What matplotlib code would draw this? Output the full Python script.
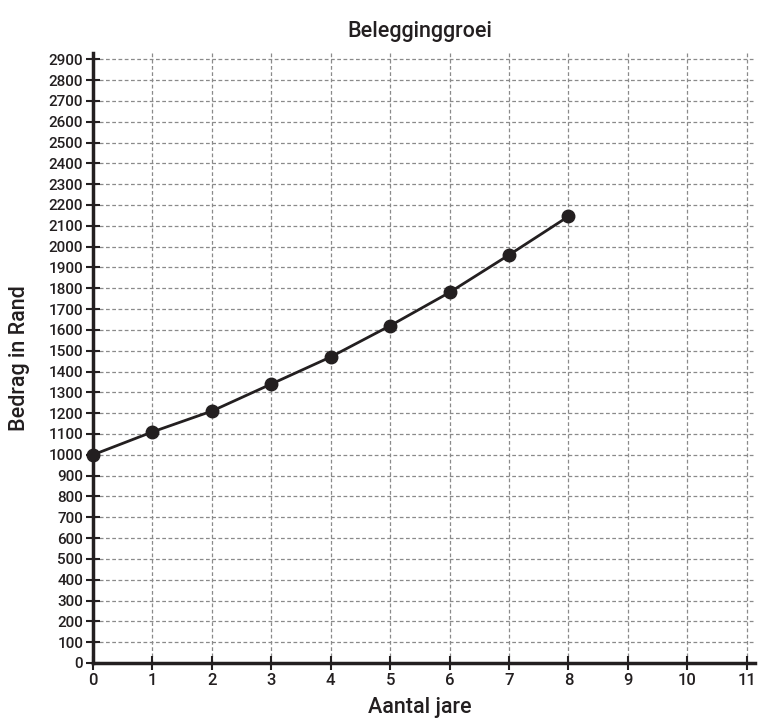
import matplotlib
matplotlib.use("Agg")
import matplotlib.pyplot as plt

# Beleggingsgroei data
jare = [0, 1, 2, 3, 4, 5, 6, 7, 8]
bedrag = [1000, 1110, 1210, 1340, 1470, 1620, 1780, 1960, 2145]
x_ticks = list(range(0, 12))
y_ticks = list(range(0, 3000, 100))

plt.rcParams['font.family'] = ['Roboto', 'DejaVu Sans']

fig = plt.figure(figsize=(7.58, 7.22), dpi=100)
ax = fig.add_axes([93/758, 1 - 663/722, (755 - 93)/758, (663 - 53)/722])

ax.plot(jare, bedrag, color='#231f20', lw=2, marker='o', ms=9, zorder=5, clip_on=False)

ax.set_xlim(0, 11.14)
ax.set_ylim(0, 2930)
ax.set_xticks(x_ticks)
ax.set_yticks(y_ticks)
ax.tick_params(axis='both', color='#231f20', labelcolor='#231f20')
ax.tick_params(axis='x', direction='inout', length=10, width=1.5, pad=2, labelsize=12)
ax.tick_params(axis='y', direction='inout', length=10, width=1.5, pad=2, labelsize=11)
for lab in ax.get_xticklabels() + ax.get_yticklabels():
    lab.set_fontweight('medium')

ax.grid(True, ls=(0, (3, 2)), color='#8a8a8a', lw=0.9)
ax.set_axisbelow(True)

for s in ['top', 'right']:
    ax.spines[s].set_visible(False)
for s in ['left', 'bottom']:
    ax.spines[s].set_linewidth(2.5)
    ax.spines[s].set_color('#231f20')

fig.text(420/758, 1 - 32/722, 'Belegginggroei', ha='center', va='center',
         fontsize=15.5, fontweight='medium', color='#231f20')
fig.text(420/758, 1 - 708/722, 'Aantal jare', ha='center', va='center',
         fontsize=15.5, fontweight='medium', color='#231f20')
fig.text(20/758, 1 - 358/722, 'Bedrag in Rand', ha='center', va='center', rotation=90,
         fontsize=15.5, fontweight='medium', color='#231f20')

fig.savefig('out.png', dpi=100)
